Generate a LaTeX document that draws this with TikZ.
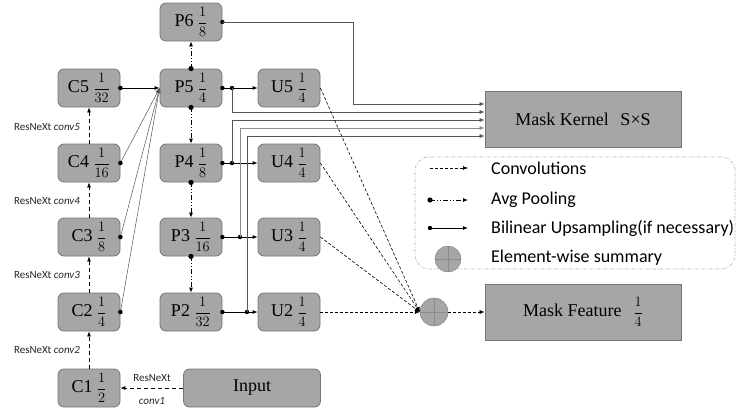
\documentclass[tikz,border=0pt]{standalone}
\usepackage{fontspec}
\usepackage{amsmath}
\setmainfont{Liberation Serif}
\newfontfamily\calib{Carlito}
\usetikzlibrary{arrows.meta}
\definecolor{boxfill}{RGB}{166,166,166}
\definecolor{boxline}{RGB}{118,118,118}
\definecolor{wire}{RGB}{85,85,85}
\newcommand\myfr[2]{{\fontsize{14}{16}\selectfont$\dfrac{#1}{#2}$}}
\begin{document}
\begin{tikzpicture}[x=1pt,y=-1pt,
  blk/.style={draw=boxline, fill=boxfill, rounded corners=6pt, minimum width=62pt, minimum height=38pt, inner sep=0pt, font=\fontsize{18}{20}\selectfont, line width=0.8pt},
  bigblk/.style={draw=boxline, fill=boxfill, minimum width=196pt, minimum height=56pt, inner sep=0pt, font=\fontsize{18}{20}\selectfont, line width=0.8pt},
  tip/.style={-{Latex[length=5pt,width=4pt]}},
  conv/.style={tip, dash pattern=on 3pt off 2pt, line width=0.6pt},
  cchain/.style={tip, dash pattern=on 4pt off 3pt, line width=0.8pt},
  pool/.style={tip, dash pattern=on 5pt off 2pt on 1pt off 2pt on 1pt off 2pt, line width=0.8pt},
  up/.style={tip, line width=0.8pt},
  lat/.style={tip, draw=wire, line width=0.5pt},
  wirel/.style={tip, draw=wire, line width=0.6pt},
  side/.style={font=\calib\fontsize{11}{12}\selectfont, text=black!85},
  legtxt/.style={anchor=west, font=\calib\fontsize{18}{20}\selectfont, inner sep=0pt},
  dotr/.style={fill=black}
]
\useasboundingbox (0,0) rectangle (738,410);

% blocks
\node[blk] (P6) at (191,22) {P6 \myfr{1}{8}};
\node[blk] (C5) at (89,88) {C5 \myfr{1}{32}};
\node[blk] (P5) at (191,88) {P5 \myfr{1}{4}};
\node[blk] (U5) at (289,88) {U5 \myfr{1}{4}};
\node[blk] (C4) at (89,163) {C4 \myfr{1}{16}};
\node[blk] (P4) at (191,163) {P4 \myfr{1}{8}};
\node[blk] (U4) at (289,163) {U4 \myfr{1}{4}};
\node[blk] (C3) at (89,237) {C3 \myfr{1}{8}};
\node[blk] (P3) at (191,237) {P3 \myfr{1}{16}};
\node[blk] (U3) at (289,237) {U3 \myfr{1}{4}};
\node[blk] (C2) at (89,312) {C2 \myfr{1}{4}};
\node[blk] (P2) at (191,312) {P2 \myfr{1}{32}};
\node[blk] (U2) at (289,312) {U2 \myfr{1}{4}};
\node[blk] (C1) at (89,388) {C1 \myfr{1}{2}};
\node[blk, minimum width=137pt] (IN) at (252,388) {Input};
\node[bigblk] (MK) at (583,119) {Mask Kernel\hspace{0.4em} S×S};
\node[bigblk] (MF) at (583,312) {Mask Feature\hspace{0.4em} \myfr{1}{4}};
\node[circle, draw=boxline, fill=boxfill, minimum size=28pt, inner sep=0pt] (S) at (434,312) {};
\draw[black!45, line width=0.5pt] (S.north) -- (S.south) (S.west) -- (S.east);

% side labels
\node[side] (l5) at (47,127) {ResNeXt \textit{conv5}};
\node[side] (l4) at (47,201) {ResNeXt \textit{conv4}};
\node[side] (l3) at (47,275) {ResNeXt \textit{conv3}};
\node[side] (l2) at (47,350) {ResNeXt \textit{conv2}};
\node[side] (l1a) at (152,378) {ResNeXt};
\node[side] (l1b) at (152,401) {\textit{conv1}};

% backbone
\draw[cchain] (IN.west) -- (C1.east);
\draw[cchain] (C1.north) -- (C2.south);
\draw[cchain] (C2.north) -- (C3.south);
\draw[cchain] (C3.north) -- (C4.south);
\draw[cchain] (C4.north) -- (C5.south);

% lateral
\draw[up] (C5.east) -- (P5.west);
\draw[lat] (C4.east) -- (P5.west);
\draw[lat] (C3.east) -- (P5.west);
\draw[lat] (C2.east) -- (P5.west);
\foreach \n in {C5,C4,C3,C2} \fill[dotr] (\n.east) circle (2.3);

% pooling
\draw[pool] (P5.north) -- (P6.south);
\draw[pool] (P5.south) -- (P4.north);
\draw[pool] (P4.south) -- (P3.north);
\draw[pool] (P3.south) -- (P2.north);
\foreach \a in {P5.north,P5.south,P4.south,P3.south} \fill[dotr] (\a) circle (2.6);

% upsampling
\coordinate (j5) at (232,88);
\coordinate (j4) at (232,163);
\coordinate (j3) at (240,237);
\coordinate (j2) at (247,312);
\draw[up] (P5.east) -- (U5.west);
\draw[up] (P4.east) -- (U4.west);
\draw[up] (P3.east) -- (U3.west);
\draw[up] (P2.east) -- (U2.west);
\foreach \a in {P6.east,P5.east,P4.east,P3.east,P2.east,j5,j4,j3,j2} \fill[dotr] (\a) circle (2.2);

% to mask kernel
\draw[wirel] (P6.east) -| (353,104) -- (MK.west |- 0,104);
\draw[wirel] (j5) |- (MK.west |- 0,112);
\draw[wirel] (j4) |- (MK.west |- 0,120);
\draw[wirel, draw=black!45] (j3) |- (MK.west |- 0,128);
\draw[wirel] (j2) |- (MK.west |- 0,136);

% convolutions to sum
\draw[conv] (U5.east) -- (S.west);
\draw[conv] (U4.east) -- (S.west);
\draw[conv] (U3.east) -- (S.west);
\draw[conv] (U2.east) -- (S.west);
\draw[conv] (S.east) -- (MF.west);

% legend
\node[draw=black!30, dash pattern=on 3pt off 1.5pt on 1pt off 1.5pt, rounded corners=14pt, minimum width=320pt, minimum height=112pt, line width=0.6pt] (LG) at (575,213) {};
\coordinate (a1) at (430,168); \coordinate (b1) at (468,168);
\coordinate (a2) at (430,200); \coordinate (b2) at (468,200);
\coordinate (a3) at (430,228); \coordinate (b3) at (468,228);
\draw[conv] (a1) -- (b1);
\draw[pool] (a2) -- (b2); \fill[dotr] (a2) circle (2.6);
\draw[up] (a3) -- (b3); \fill[dotr] (a3) circle (2.2);
\node[circle, draw=boxline, fill=boxfill, minimum size=26pt, inner sep=0pt] (LS) at (448,259) {};
\draw[black!45, line width=0.5pt] (LS.north) -- (LS.south) (LS.west) -- (LS.east);
\node[legtxt] (t1) at (491,168) {Convolutions};
\node[legtxt] (t2) at (491,200) {Avg Pooling};
\node[legtxt] (t3) at (491,228) {Bilinear Upsampling(if necessary)};
\node[legtxt] (t4) at (491,258) {Element-wise summary};
\end{tikzpicture}
\end{document}
